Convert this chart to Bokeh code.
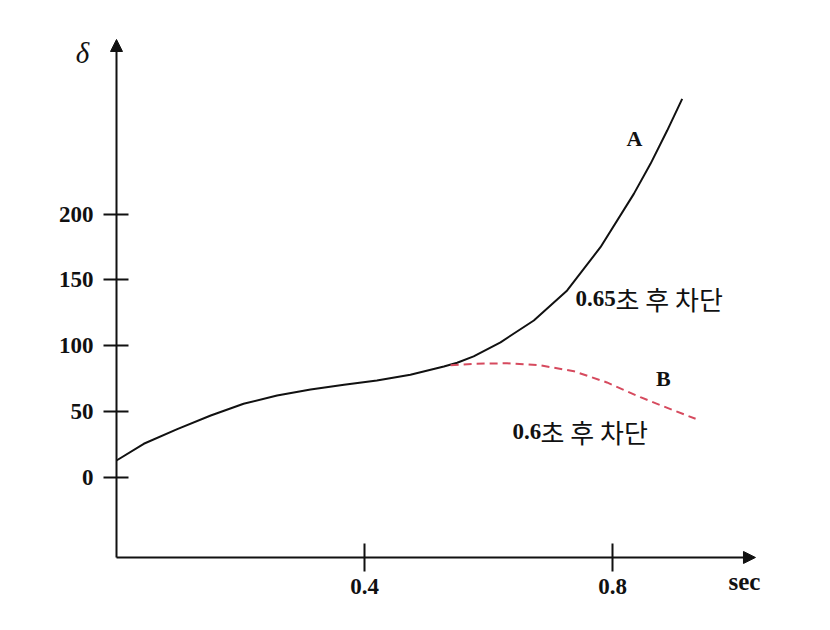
from bokeh.plotting import figure
from bokeh.models import Range1d, FixedTicker, Arrow, NormalHead
from bokeh.core.properties import value
from bokeh.embed import file_html
from bokeh.resources import INLINE

# --- data ---
t_a = [0.0, 0.044, 0.098, 0.152, 0.205, 0.259, 0.313, 0.367, 0.42, 0.474, 0.528,
       0.5495, 0.576, 0.6194, 0.6731, 0.7269, 0.7806, 0.8344, 0.8613, 0.8882, 0.9124]
delta_a = [12.7, 25.4, 36.5, 46.9, 55.8, 62.1, 66.6, 70.2, 73.5, 77.8, 84.1,
           87.0, 91.8, 102.5, 119.1, 141.9, 174.8, 215.3, 238.1, 263.4, 287.5]

t_b = [0.539, 0.576, 0.630, 0.684, 0.738, 0.791, 0.845, 0.899, 0.934]
delta_b = [85.0, 86.2, 86.6, 85.0, 80.5, 72.0, 60.8, 50.7, 44.4]

x_ticks = [0.4, 0.8]
y_ticks = [0, 50, 100, 150, 200]

# annotation texts
label_a = "A"
label_b = "B"
num_a, kor_a = "0.65", "초 후 차단"
num_b, kor_b = "0.6", "초 후 차단"
y_name = "δ"
x_name = "sec"

X_AXIS_AT = -61.0   # delta value where the time axis sits
X_END = 1.0306      # end of time-axis arrow
Y_END = 332.6       # end of delta-axis arrow

W, H = 814, 614
PX_PER_T, PX_PER_D = 620.0, 1.316
ORIGIN_X, ORIGIN_Y = 116.0, 476.7

x_range = Range1d(-ORIGIN_X / PX_PER_T, (W - ORIGIN_X) / PX_PER_T)
y_range = Range1d((ORIGIN_Y - H) / PX_PER_D, ORIGIN_Y / PX_PER_D)

p = figure(width=W, height=H, output_backend="svg", toolbar_location=None,
           x_range=x_range, y_range=y_range, min_border=0)
p.outline_line_color = None
p.grid.visible = False
p.background_fill_color = "white"

for ax in (p.xaxis[0], p.yaxis[0]):
    ax.axis_line_color = None
    ax.major_tick_line_color = "#111111"
    ax.major_tick_line_width = 2
    ax.minor_tick_line_color = None
    ax.major_label_text_font = "Liberation Serif"
    ax.major_label_text_font_style = "bold"
    ax.major_label_text_font_size = "23px"
    ax.major_label_text_color = "#111111"

p.xaxis.fixed_location = X_AXIS_AT
p.yaxis.fixed_location = 0.0
p.xaxis.ticker = FixedTicker(ticks=x_ticks)
p.yaxis.ticker = FixedTicker(ticks=y_ticks)
p.xaxis.major_tick_in = 14
p.xaxis.major_tick_out = 14
p.xaxis.major_label_standoff = 8
p.yaxis.major_tick_in = 12
p.yaxis.major_tick_out = 13
p.yaxis.major_label_standoff = 10

# axes with arrow heads
p.add_layout(Arrow(x_start=0.0, y_start=X_AXIS_AT, x_end=X_END, y_end=X_AXIS_AT, line_width=2,
                   line_color="#111111",
                   end=NormalHead(size=12, fill_color="#111111", line_color="#111111")))
p.add_layout(Arrow(x_start=0.0, y_start=X_AXIS_AT, x_end=0.0, y_end=Y_END, line_width=2,
                   line_color="#111111",
                   end=NormalHead(size=12, fill_color="#111111", line_color="#111111")))

# curves
p.line(t_a, delta_a, line_color="#111111", line_width=2)
p.line(t_b, delta_b, line_color="#d64a5e", line_width=2, line_dash="8 5")

serif_bold = dict(text_font=value("Liberation Serif"), text_font_style="bold",
                  text_color="#111111")
p.text(x=[0.8355], y=[257.2], text=[label_a], text_align="center", text_baseline="middle",
       text_font_size="22px", **serif_bold)
p.text(x=[0.882], y=[75.0], text=[label_b], text_align="center", text_baseline="middle",
       text_font_size="22px", **serif_bold)

p.text(x=[0.7403], y=[135.6], text=[num_a], text_align="left", text_baseline="middle",
       text_font_size="23px", **serif_bold)
p.text(x=[0.8048], y=[135.6], text=[kor_a], text_align="left", text_baseline="middle",
       text_font_size="26px", text_font=value("Noto Sans CJK KR"), text_color="#111111")
p.text(x=[0.6387], y=[34.7], text=[num_b], text_align="left", text_baseline="middle",
       text_font_size="23px", **serif_bold)
p.text(x=[0.6839], y=[34.7], text=[kor_b], text_align="left", text_baseline="middle",
       text_font_size="26px", text_font=value("Noto Sans CJK KR"), text_color="#111111")

p.text(x=[-0.0548], y=[322.0], text=[y_name], text_align="center", text_baseline="middle",
       text_font=value("Liberation Serif"), text_font_style="italic",
       text_font_size="29px", text_color="#111111")
p.text(x=[1.0129], y=[-79.3], text=[x_name], text_align="center", text_baseline="middle",
       text_font_size="25px", **serif_bold)

open("out.html", "w").write(file_html(p, INLINE))
